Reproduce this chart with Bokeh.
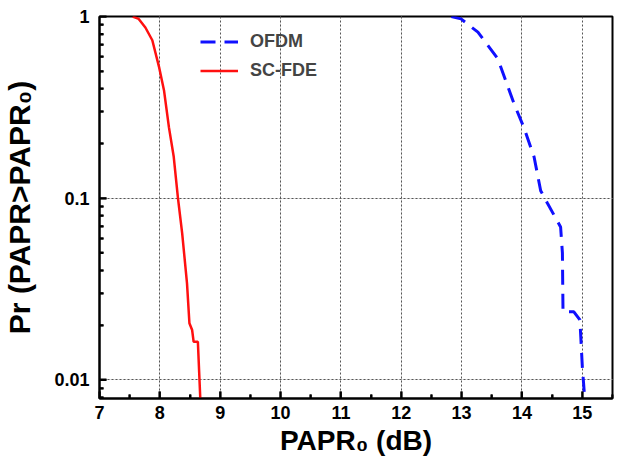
from bokeh.plotting import figure
from bokeh.models import (FixedTicker, CustomJSTickFormatter, Legend, LegendItem,
                          Range1d, LinearAxis, LogAxis, Grid)
from bokeh.embed import file_html
from bokeh.resources import INLINE

# CCDF of PAPR for the two waveforms
sc_fde_papr = [7.55, 7.65, 7.76, 7.875, 7.985, 8.07, 8.15, 8.23, 8.30, 8.37,
               8.45, 8.49, 8.535, 8.56, 8.63, 8.67]
sc_fde_prob = [1.0, 0.97, 0.87, 0.74, 0.53, 0.39, 0.246, 0.169, 0.10, 0.064,
               0.034, 0.0205, 0.0188, 0.0162, 0.0162, 0.0079]

ofdm_papr = [12.83, 12.99, 13.27, 13.60, 13.87, 14.03, 14.20, 14.31, 14.42,
             14.64, 14.67, 14.68, 14.86, 14.96, 15.00, 15.04]
ofdm_prob = [1.0, 0.97, 0.82, 0.585, 0.33, 0.246, 0.169, 0.11, 0.094,
             0.0695, 0.050, 0.0237, 0.0237, 0.0214, 0.0118, 0.0079]

x_ticks = [7, 8, 9, 10, 11, 12, 13, 14, 15]
x_minor = [7.5, 8.5, 9.5, 10.5, 11.5, 12.5, 13.5, 14.5, 15.5]
y_ticks = [0.01, 0.1, 1]
y_minor = [0.008, 0.009] + [k / 100 for k in range(2, 10)] + [k / 10 for k in range(2, 10)]

X_MIN, X_MAX = 7, 15.5
Y_MIN, Y_MAX = 0.0079, 1

FONT = "Liberation Sans"

p = figure(width=618, height=468,
           x_range=Range1d(X_MIN, X_MAX), y_range=Range1d(Y_MIN, Y_MAX),
           y_axis_type="log",
           x_axis_location=None, y_axis_location=None,
           output_backend="svg", toolbar_location=None,
           min_border_left=97, min_border_right=6, min_border_top=16,
           min_border_bottom=70)

p.background_fill_color = None
p.border_fill_color = "white"
p.outline_line_color = "black"
p.outline_line_width = 2

x_ticker = FixedTicker(ticks=x_ticks, minor_ticks=x_minor)
y_ticker = FixedTicker(ticks=y_ticks, minor_ticks=y_minor)

axis_style = dict(
    axis_line_color="black", axis_line_width=2,
    major_tick_in=7, major_tick_out=0, minor_tick_in=4, minor_tick_out=0,
    major_tick_line_width=2, minor_tick_line_width=2,
    major_tick_line_color="black", minor_tick_line_color="black",
    major_label_text_font=FONT, major_label_text_font_style="bold",
    major_label_text_font_size="18px", major_label_text_color="black",
    axis_label_text_font=FONT, axis_label_text_font_style="bold",
    axis_label_text_color="black",
)

xaxis = LinearAxis(ticker=x_ticker, axis_label="PAPR\u2080 (dB)",
                   axis_label_text_font_size="28px", axis_label_standoff=3,
                   major_label_standoff=7, **axis_style)
yaxis = LogAxis(ticker=y_ticker, axis_label="Pr (PAPR>PAPR\u2080)",
                axis_label_text_font_size="30px", axis_label_standoff=15,
                major_label_standoff=10,
                formatter=CustomJSTickFormatter(code="return String(+tick.toPrecision(3));"),
                **axis_style)
p.add_layout(xaxis, "below")
p.add_layout(yaxis, "left")

# dotted gray grid at the major ticks
for dim, tk in ((0, x_ticker), (1, y_ticker)):
    p.add_layout(Grid(dimension=dim, ticker=tk, grid_line_color="#555555",
                      grid_line_dash="2 2", grid_line_width=1))

# inward tick marks along the bottom and left edges, as short polylines
X_TICK_MAJOR, X_TICK_MINOR = 1.092, 1.052   # factors on the log y scale
Y_TICK_MAJOR, Y_TICK_MINOR = 0.115, 0.066   # lengths in x units
tick_xs = ([[t, t] for t in x_ticks] + [[t, t] for t in x_minor]
           + [[X_MIN, X_MIN + Y_TICK_MAJOR] for _ in y_ticks]
           + [[X_MIN, X_MIN + Y_TICK_MINOR] for _ in y_minor])
tick_ys = ([[Y_MIN, Y_MIN * X_TICK_MAJOR] for _ in x_ticks]
           + [[Y_MIN, Y_MIN * X_TICK_MINOR] for _ in x_minor]
           + [[t, t] for t in y_ticks] + [[t, t] for t in y_minor])
p.multi_line(xs=tick_xs, ys=tick_ys, line_color="black", line_width=2)

r_ofdm = p.line(ofdm_papr, ofdm_prob, line_color="#1010ff", line_width=3,
                line_dash="15 9")
r_sc = p.line(sc_fde_papr, sc_fde_prob, line_color="#ff1010", line_width=2.5)

legend = Legend(items=[LegendItem(label="OFDM", renderers=[r_ofdm]),
                       LegendItem(label="SC-FDE", renderers=[r_sc])],
                location=(101, 313), padding=0, margin=0, spacing=0,
                glyph_width=38, glyph_height=29, label_height=29,
                label_standoff=12,
                border_line_color=None, background_fill_alpha=0,
                label_text_font=FONT, label_text_font_style="bold",
                label_text_font_size="18px")
p.add_layout(legend, "center")

open("out.html", "w").write(file_html(p, INLINE))
